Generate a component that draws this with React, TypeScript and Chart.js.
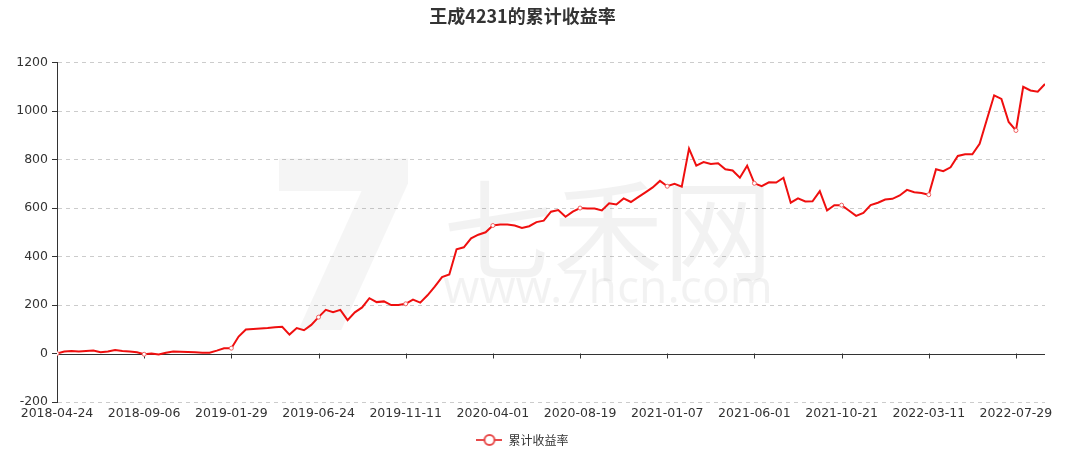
import { useEffect, useRef } from "react"
import { Chart, registerables } from "chart.js"

Chart.register(...registerables)

// x轴标签（每12个数据点一个）
const tickLabels = [
  "2018-04-24",
  "2018-09-06",
  "2019-01-29",
  "2019-06-24",
  "2019-11-11",
  "2020-04-01",
  "2020-08-19",
  "2021-01-07",
  "2021-06-01",
  "2021-10-21",
  "2022-03-11",
  "2022-07-29",
]
const pointsPerTick = 12

// 累计收益率（%）
const cumulativeReturn = [
  0, 8, 10, 8, 10, 12, 5, 8, 14, 10, 8, 5,
  -3, 0, -4, 3, 8, 7, 6, 5, 3, 3, 12, 22,
  22, 70, 99, 101, 103, 105, 108, 110, 78, 105, 96, 118,
  150, 180, 170, 180, 138, 170, 190, 228, 212, 215, 200, 200,
  205, 222, 210, 240, 276, 315, 326, 430, 438, 475, 490, 500,
  528, 532, 532, 528, 518, 525, 542, 548, 585, 592, 564, 585,
  600, 598, 598, 590, 620, 615, 640, 625, 645, 665, 685, 712,
  690, 700, 688, 845, 775, 790, 782, 785, 760, 755, 725, 775,
  702, 690, 706, 705, 725, 622, 640, 627, 628, 670, 590, 612,
  612, 590, 568, 580, 612, 622, 635, 638, 652, 675, 665, 662,
  655, 760, 752, 768, 815, 822, 822, 865, 965, 1065, 1050, 955,
  920, 1100, 1085, 1080, 1112,
]

const seriesName = "累计收益率"
const chartTitle = "王成4231的累计收益率"
const lineColor = "#ef0f0f"
const fontFamily = "'DejaVu Sans', 'Noto Sans CJK SC', sans-serif"

export default function App() {
  const chartRef = useRef<HTMLCanvasElement>(null)
  const chartInstance = useRef<Chart | null>(null)

  useEffect(() => {
    if (!chartRef.current) return
    document.body.style.margin = "0"

    if (chartInstance.current) {
      chartInstance.current.destroy()
    }

    const ctx = chartRef.current.getContext("2d")
    if (!ctx) return

    // 图例符号：线 + 空心圆
    const legendIcon = document.createElement("canvas")
    legendIcon.width = 26
    legendIcon.height = 14
    const ic = legendIcon.getContext("2d")
    if (ic) {
      ic.strokeStyle = "#e84a4a"
      ic.lineWidth = 2
      ic.beginPath()
      ic.moveTo(0, 7)
      ic.lineTo(26, 7)
      ic.stroke()
      ic.fillStyle = "#fff"
      ic.beginPath()
      ic.arc(13, 7, 5, 0, Math.PI * 2)
      ic.fill()
      ic.stroke()
    }

    // 水印
    const watermark = {
      id: "watermark",
      beforeDatasetsDraw(chart: Chart) {
        const c = chart.ctx
        c.save()
        c.fillStyle = "rgba(0,0,0,0.04)"
        c.textBaseline = "alphabetic"
        c.font = "bold 235px 'DejaVu Sans', sans-serif"
        c.textAlign = "center"
        c.fillText("7", 345, 330)
        c.fillStyle = "rgba(0,0,0,0.05)"
        c.font = "110px 'Noto Sans CJK SC', sans-serif"
        c.fillText("七禾网", 608, 272)
        c.font = "46px 'Noto Sans', sans-serif"
        c.fillText("www.7hcn.com", 608, 303)
        c.restore()
      },
    }

    // 零轴线和x轴刻度
    const zeroAxis = {
      id: "zeroAxis",
      beforeDatasetsDraw(chart: Chart) {
        const { ctx: c, chartArea, scales } = chart
        const y0 = scales.y.getPixelForValue(0)
        c.save()
        c.strokeStyle = "#333"
        c.lineWidth = 1
        c.beginPath()
        c.moveTo(chartArea.left, Math.round(y0) + 0.5)
        c.lineTo(chartArea.right, Math.round(y0) + 0.5)
        for (let i = 0; i < tickLabels.length; i++) {
          const px = Math.round(scales.x.getPixelForValue(i * pointsPerTick)) + 0.5
          c.moveTo(px, y0)
          c.lineTo(px, y0 + 5)
        }
        c.stroke()
        c.restore()
      },
    }

    chartInstance.current = new Chart(ctx, {
      type: "line",
      data: {
        datasets: [
          {
            label: seriesName,
            data: cumulativeReturn.map((v, i) => ({ x: i, y: v })),
            borderColor: lineColor,
            borderWidth: 2,
            backgroundColor: "#fff",
            pointRadius: (c: any) => (c.dataIndex % pointsPerTick === 0 ? 2 : 0),
            pointBackgroundColor: "#fff",
            pointBorderColor: "#f06060",
            pointBorderWidth: 1,
            tension: 0,
            fill: false,
          },
        ],
      },
      options: {
        animation: false,
        responsive: true,
        maintainAspectRatio: false,
        layout: { padding: { left: 0, right: 23, top: 0, bottom: -5 } },
        scales: {
          x: {
            type: "linear",
            min: 0,
            max: cumulativeReturn.length - 1,
            afterFit: (s: any) => {
              s.height = 27
            },
            grid: { display: false, drawTicks: false },
            border: { display: false },
            ticks: {
              stepSize: pointsPerTick,
              includeBounds: false,
              autoSkip: false,
              maxRotation: 0,
              padding: 4,
              color: "#333",
              font: { family: fontFamily, size: 12.5 },
              callback: (v: any) =>
                Number(v) % pointsPerTick === 0 ? tickLabels[Number(v) / pointsPerTick] ?? "" : "",
            },
          },
          y: {
            min: -200,
            max: 1200,
            afterFit: (s: any) => {
              s.width = 57
            },
            grid: {
              color: (c: any) => (c.tick && c.tick.value === 0 ? "rgba(0,0,0,0)" : "#cccccc"),
              tickColor: "#333",
              tickLength: 5,
              drawTicks: true,
            },
            border: { display: true, color: "#333", width: 1, dash: [4, 4] },
            ticks: {
              stepSize: 200,
              padding: 4,
              color: "#333",
              font: { family: fontFamily, size: 12.5 },
              callback: (v: any) => String(v),
            },
          },
        },
        plugins: {
          title: {
            display: true,
            text: chartTitle,
            color: "#333",
            font: { family: "'Noto Sans CJK SC', sans-serif", size: 18, weight: "bold" },
            padding: { top: 5, bottom: 36 },
          },
          legend: {
            display: true,
            position: "bottom",
            labels: {
              usePointStyle: true,
              pointStyle: legendIcon,
              pointStyleWidth: 26,
              color: "#333",
              padding: 5,
              font: { family: "'Noto Sans CJK SC', sans-serif", size: 12 },
            },
          },
          tooltip: { enabled: false },
        },
      },
      plugins: [watermark, zeroAxis],
    })

    return () => {
      if (chartInstance.current) {
        chartInstance.current.destroy()
        chartInstance.current = null
      }
    }
  }, [])

  return (
    <div style={{ position: "relative", width: 1068, height: 451, background: "#fff" }}>
      <canvas ref={chartRef} />
    </div>
  )
}
